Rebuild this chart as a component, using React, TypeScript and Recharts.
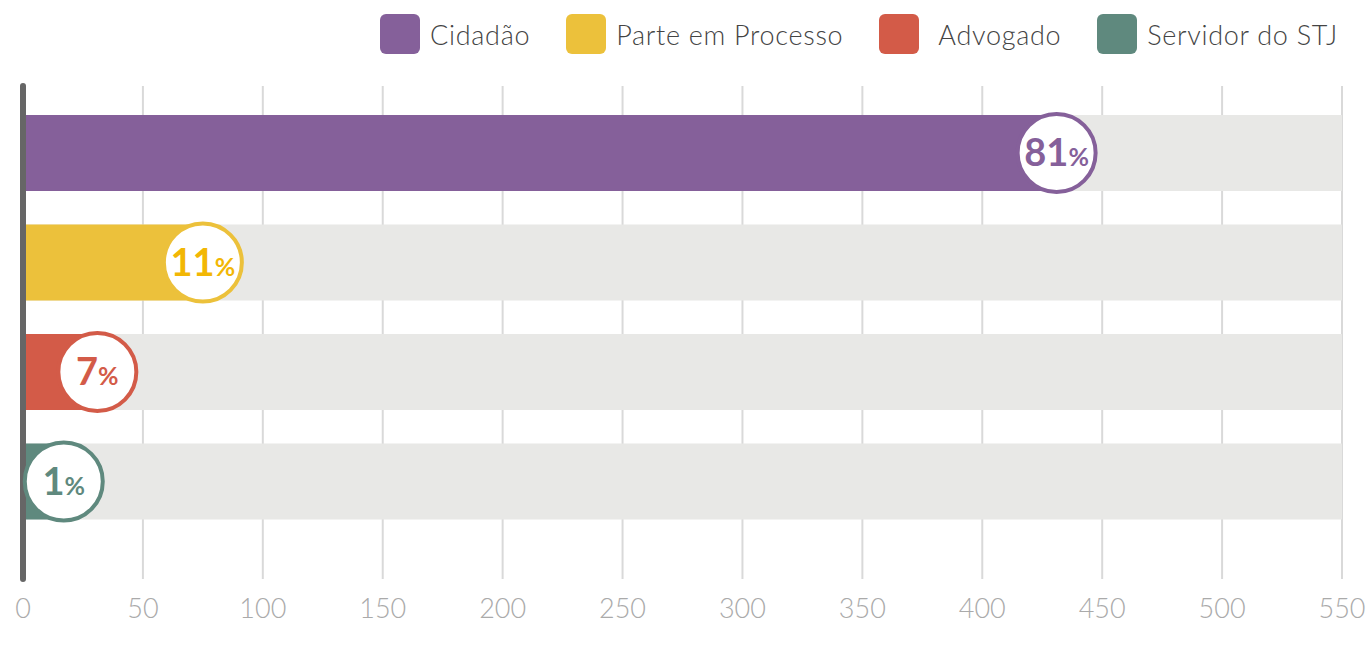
import { BarChart, Bar, XAxis, YAxis, CartesianGrid, Cell, LabelList } from 'recharts'

const categories = ['Cidadão', 'Parte em Processo', 'Advogado', 'Servidor do STJ']
const counts = [431, 75, 31, 17]
const percents = [81, 11, 7, 1]
const xTicks = [0, 50, 100, 150, 200, 250, 300, 350, 400, 450, 500, 550]

const colors = ['#85609a', '#ecc13b', '#d35b48', '#5f897e']
const labelColors = ['#85609a', '#f2b705', '#d35b48', '#5f897e']

const data = categories.map((name, i) => ({ name, total: counts[i], pct: percents[i] }))

const FONT = 'Lato, "Noto Sans", sans-serif'

function CircleLabel(props: any) {
    const { x, y, width, height, index } = props
    const cx = x + width
    const cy = y + height / 2
    return (
        <g>
            <circle cx={cx} cy={cy} r={39} fill="#fff" stroke={colors[index]} strokeWidth={4} />
            <text x={cx} y={cy + 13} textAnchor="middle" fill={labelColors[index]} fontFamily={FONT} fontWeight={700}>
                <tspan fontSize={38}>{percents[index]}</tspan>
                <tspan fontSize={25}>%</tspan>
            </text>
        </g>
    )
}

function Legend() {
    return (
        <div style={{ position: 'absolute', top: 14, right: 30, display: 'flex', gap: 36, fontFamily: FONT, fontSize: 27, letterSpacing: 0.7, color: '#444', fontWeight: 300 }}>
            {categories.map((c, i) => (
                <div key={c} style={{ display: 'flex', alignItems: 'center', height: 40 }}>
                    <span style={{ width: 40, height: 40, borderRadius: 6, background: colors[i], display: 'inline-block' }} />
                    <span style={{ marginLeft: i === 2 ? 19 : 10 }}>{c}</span>
                </div>
            ))}
        </div>
    )
}

export default function App() {
    return (
        <div style={{ position: 'relative', width: 1368, height: 648 }}>
            <style>{'html, body { margin: 0; overflow: hidden; }'}</style>
            <Legend />
            <BarChart
                width={1368}
                height={648}
                data={data}
                layout="vertical"
                margin={{ top: 86, right: 26, left: 22, bottom: 17 }}
                style={{ overflow: 'visible' }}
            >
                <CartesianGrid horizontal={false} stroke="#d9d9d9" strokeWidth={2} />
                <XAxis
                    type="number"
                    domain={[0, 550]}
                    ticks={xTicks}
                    tickLine={false}
                    axisLine={false}
                    height={52}
                    tickMargin={14}
                    tick={{ fill: '#aaa', fontSize: 27, fontFamily: FONT, fontWeight: 300 }}
                />
                <Bar
                    dataKey="total"
                    barSize={76}
                    background={{ fill: '#e8e8e6' }}
                    isAnimationActive={false}
                >
                    {data.map((d, i) => (
                        <Cell key={d.name} fill={colors[i]} />
                    ))}
                    <LabelList dataKey="pct" content={<CircleLabel />} />
                </Bar>
                <YAxis
                    type="category"
                    dataKey="name"
                    width={1}
                    tick={false}
                    tickLine={false}
                    padding={{ top: 12, bottom: 43 }}
                    axisLine={{ stroke: '#666', strokeWidth: 6, strokeLinecap: 'round' }}
                />
            </BarChart>
        </div>
    )
}
